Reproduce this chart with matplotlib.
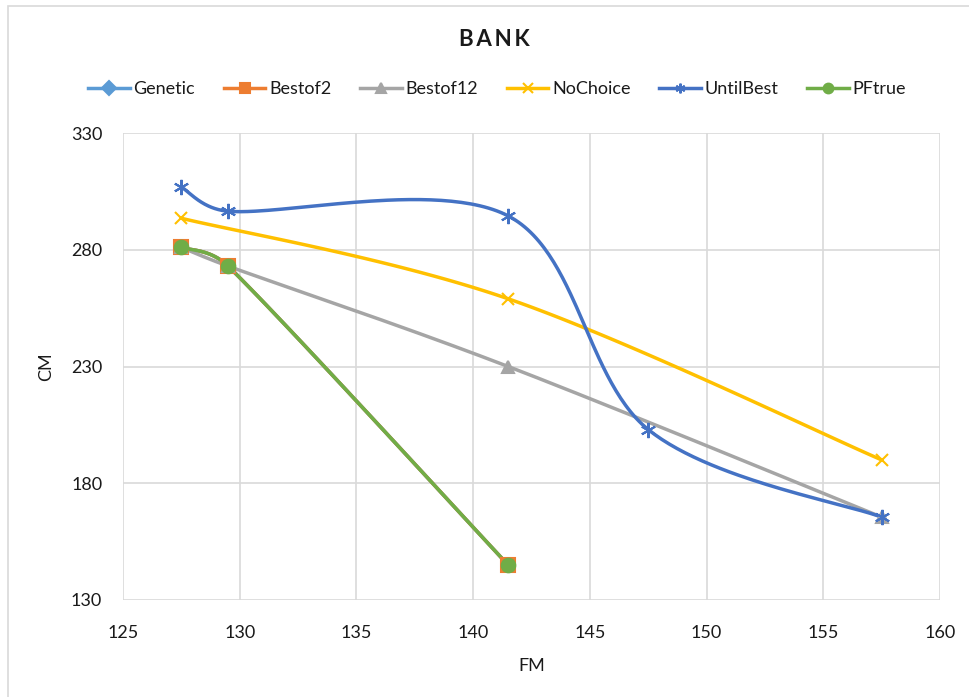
import matplotlib
matplotlib.use("Agg")
import matplotlib.pyplot as plt
import numpy as np
from matplotlib.patches import Rectangle

plt.rcParams['font.family'] = ['Lato', 'DejaVu Sans']

# 数据
genetic_x = [127.5, 129.5, 141.5]
genetic_y = [281, 273, 145]
bestof2_x = [127.5, 129.5, 141.5]
bestof2_y = [281, 273, 145]
bestof12_x = [127.5, 129.5, 141.5, 157.5]
bestof12_y = [281, 273, 230, 165.5]
nochoice_x = [127.5, 141.5, 157.5]
nochoice_y = [293.5, 259, 190]
untilbest_x = [127.5, 129.5, 141.5, 147.5, 157.5]
untilbest_y = [306.8, 296.5, 294.5, 203, 165.5]
pftrue_x = [127.5, 129.5, 141.5]
pftrue_y = [281, 273, 145]

x_ticks = [125, 130, 135, 140, 145, 150, 155, 160]
y_ticks = [130, 180, 230, 280, 330]

# 平滑曲线(类似Excel的平滑线), 在屏幕坐标中计算贝塞尔控制点
def smooth(ax, xs, ys, n=60):
    pts = ax.transData.transform(np.column_stack([xs, ys]))
    if len(pts) < 3:
        return np.array(xs), np.array(ys)
    P = np.vstack([pts[0], pts, pts[-1]])
    out = []
    for i in range(1, len(P) - 2):
        p0, p1, p2, p3 = P[i - 1], P[i], P[i + 1], P[i + 2]
        d12 = np.linalg.norm(p2 - p1)
        d02 = np.linalg.norm(p2 - p0)
        d13 = np.linalg.norm(p3 - p1)
        f0 = 1 / 6 if d02 / 6 < d12 / 2 else d12 / (2 * d02)
        f1 = 1 / 6 if d13 / 6 < d12 / 2 else d12 / (2 * d13)
        c1 = p1 + (p2 - p0) * f0
        c2 = p2 - (p3 - p1) * f1
        t = np.linspace(0, 1, n)[:, None]
        seg = (1 - t) ** 3 * p1 + 3 * (1 - t) ** 2 * t * c1 + 3 * (1 - t) * t ** 2 * c2 + t ** 3 * p2
        out.append(seg)
    curve = ax.transData.inverted().transform(np.vstack(out))
    return curve[:, 0], curve[:, 1]

fig = plt.figure(figsize=(9.7, 6.97), dpi=100)
ax = fig.add_axes([123 / 970, 1 - 600 / 697, (940 - 123) / 970, (600 - 133) / 697])
ax.set_xlim(125, 160)
ax.set_ylim(130, 330)

series = [
    ('Genetic', genetic_x, genetic_y, '#5B9BD5', 'D', 6.5),
    ('Bestof2', bestof2_x, bestof2_y, '#ED7D31', 's', 9.5),
    ('Bestof12', bestof12_x, bestof12_y, '#A5A5A5', '^', 9),
    ('NoChoice', nochoice_x, nochoice_y, '#FFC000', 'x', 9),
    ('UntilBest', untilbest_x, untilbest_y, '#4472C4', (6, 2, 0), 11),
    ('PFtrue', pftrue_x, pftrue_y, '#70AD47', 'o', 9.8),
]

handles = []
for name, xs, ys, c, m, ms in series:
    sx, sy = smooth(ax, xs, ys)
    ax.plot(sx, sy, color=c, lw=2.5, solid_capstyle='round', zorder=3)
    ax.plot(xs, ys, ls='none', marker=m, ms=ms, color=c, mec=c, mew=1.5, zorder=4)
    h, = plt.plot([], [], color=c, lw=2.5, marker=m, ms=7, mec=c, mew=1.5, label=name)
    handles.append(h)

ax.set_xticks(x_ticks)
ax.set_yticks(y_ticks)
ax.grid(True, color='#D9D9D9', lw=1.2)
ax.set_axisbelow(True)
for s in ax.spines.values():
    s.set_visible(False)
ax.tick_params(axis='both', length=0, labelsize=13, colors='#1a1a1a')
ax.tick_params(axis='x', pad=18)
ax.tick_params(axis='y', pad=15)
ax.set_xlabel('FM', fontsize=13, color='#1a1a1a', labelpad=12)
ax.set_ylabel('CM', fontsize=13, color='#1a1a1a', labelpad=12)

fig.text(494 / 970, 1 - 40 / 697, 'B\u2009A\u2009N\u2009K', fontsize=16, fontweight='bold',
         ha='center', va='center', color='#1a1a1a')

fig.legend(handles=handles, loc='center', bbox_to_anchor=(497 / 970, 1 - 89 / 697),
           ncol=6, frameon=False, fontsize=13, handlelength=2.3, handletextpad=0.2,
           columnspacing=1.6, labelcolor='#1a1a1a')

# 图表外框
fig.add_artist(Rectangle((8 / 970, -0.05), 1.1, 1.05 - 6 / 697, transform=fig.transFigure,
                         fill=False, edgecolor='#D9D9D9', lw=1.2))

plt.savefig('out.png', dpi=100)
